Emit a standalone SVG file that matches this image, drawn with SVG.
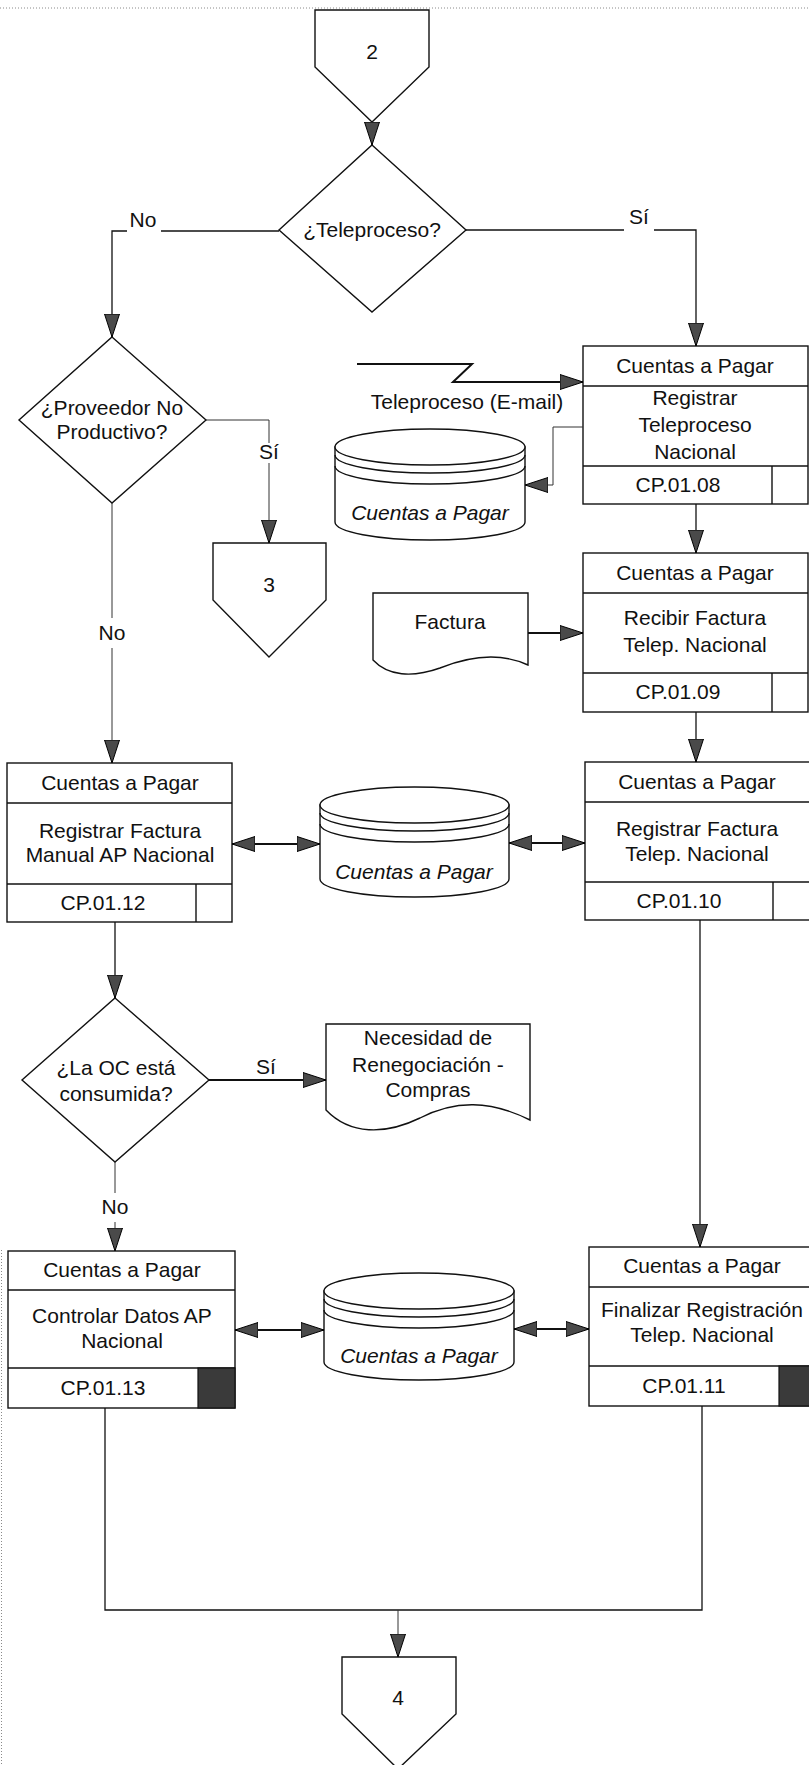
<svg xmlns="http://www.w3.org/2000/svg" width="809" height="1765" viewBox="0 0 809 1765">
  <style>
    .shape { fill: #ffffff; stroke: #111111; stroke-width: 1.4; }
    .rule { stroke: #111111; stroke-width: 1.4; fill: none; }
    .dark { fill: #3a3a3a; stroke: #111111; stroke-width: 1.2; }
    .txt { font-family: "Liberation Sans", Arial, sans-serif; font-size: 21px; fill: #111111; text-anchor: middle; }
    .ital { font-style: italic; }
    .conn { fill: none; stroke: #111111; stroke-width: 1.3; }
    .thin { fill: none; stroke: #333333; stroke-width: 1; }
    .thick { fill: none; stroke: #111111; stroke-width: 2; }
    .page { stroke: #8a8a8a; stroke-width: 1; stroke-dasharray: 1 2; fill: none; }
  </style>
  <defs>
    <marker id="arrow" markerUnits="userSpaceOnUse" markerWidth="24" markerHeight="16" refX="23" refY="8" orient="auto-start-reverse" viewBox="0 0 24 16">
      <path d="M0,0.5 L23,8 L0,15.5 Z" fill="#4a4a4a" stroke="#000000" stroke-width="1"/>
    </marker>
  </defs>

  <rect width="809" height="1765" fill="#ffffff"/>

  <!-- page edges -->
  <line class="page" x1="0" y1="8" x2="809" y2="8"/>
  <line class="page" x1="1.5" y1="1250" x2="1.5" y2="1765"/>

  <!-- off-page connector 2 -->
  <g id="conn-2">
    <polygon class="shape" points="315,10 429,10 429,67 372,122 315,67"/>
    <text class="txt" x="372" y="59" font-size="20">2</text>
  </g>

  <!-- decision: teleproceso -->
  <g id="dec-teleproceso">
    <polygon class="shape" points="372,145 466,230 372,312 279,230"/>
    <text class="txt" x="372" y="237">¿Teleproceso?</text>
  </g>

  <!-- decision: proveedor no productivo -->
  <g id="dec-proveedor">
    <polygon class="shape" points="112,337 206,420 112,503 19,420"/>
    <text class="txt" x="112" y="415">¿Proveedor No</text>
    <text class="txt" x="112" y="439">Productivo?</text>
  </g>

  <!-- off-page connector 3 -->
  <g id="conn-3">
    <polygon class="shape" points="213,543 326,543 326,600 269,657 213,600"/>
    <text class="txt" x="269" y="592" font-size="20">3</text>
  </g>

  <!-- CP.01.08 -->
  <g id="cp-01-08">
    <rect class="shape" x="583" y="346" width="225" height="158"/>
    <line class="rule" x1="583" y1="386" x2="808" y2="386"/>
    <line class="rule" x1="583" y1="466" x2="808" y2="466"/>
    <line class="rule" x1="772" y1="466" x2="772" y2="504"/>
    <text class="txt" x="695" y="373">Cuentas a Pagar</text>
    <text class="txt" x="695" y="405">Registrar</text>
    <text class="txt" x="695" y="432">Teleproceso</text>
    <text class="txt" x="695" y="459">Nacional</text>
    <text class="txt" x="678" y="492">CP.01.08</text>
  </g>

  <!-- data store next to CP.01.08 -->
  <g id="db-1">
    <path class="shape" d="M335,447 V522 A95,18 0 0 0 525,522 V447 Z"/>
    <ellipse class="shape" cx="430" cy="447" rx="95" ry="18"/>
    <path class="rule" d="M335,455 A95,18 0 0 0 525,455 M335,466 A95,18 0 0 0 525,466"/>
    <text class="txt ital" x="430" y="520">Cuentas a Pagar</text>
  </g>

  <!-- teleprocess link label -->
  <g id="lbl-teleproceso">
    <text class="txt" x="467" y="409">Teleproceso (E-mail)</text>
  </g>

  <!-- Factura document -->
  <g id="doc-factura">
    <path class="shape" d="M373,593 H528 V665 C500,652 470,656 440,668 C412,678 388,676 373,660 Z"/>
    <text class="txt" x="450" y="629">Factura</text>
  </g>

  <!-- CP.01.09 -->
  <g id="cp-01-09">
    <rect class="shape" x="583" y="553" width="225" height="159"/>
    <line class="rule" x1="583" y1="593" x2="808" y2="593"/>
    <line class="rule" x1="583" y1="673" x2="808" y2="673"/>
    <line class="rule" x1="772" y1="673" x2="772" y2="712"/>
    <text class="txt" x="695" y="580">Cuentas a Pagar</text>
    <text class="txt" x="695" y="625">Recibir Factura</text>
    <text class="txt" x="695" y="652">Telep. Nacional</text>
    <text class="txt" x="678" y="699">CP.01.09</text>
  </g>

  <!-- CP.01.12 -->
  <g id="cp-01-12">
    <rect class="shape" x="7" y="763" width="225" height="159"/>
    <line class="rule" x1="7" y1="803" x2="232" y2="803"/>
    <line class="rule" x1="7" y1="884" x2="232" y2="884"/>
    <line class="rule" x1="196" y1="884" x2="196" y2="922"/>
    <text class="txt" x="120" y="790">Cuentas a Pagar</text>
    <text class="txt" x="120" y="838">Registrar Factura</text>
    <text class="txt" x="120" y="862">Manual AP Nacional</text>
    <text class="txt" x="103" y="910">CP.01.12</text>
  </g>

  <!-- central data store -->
  <g id="db-2">
    <path class="shape" d="M320,805 V879 A94.5,18 0 0 0 509,879 V805 Z"/>
    <ellipse class="shape" cx="414.5" cy="805" rx="94.5" ry="18"/>
    <path class="rule" d="M320,813 A94.5,18 0 0 0 509,813 M320,824 A94.5,18 0 0 0 509,824"/>
    <text class="txt ital" x="414" y="879">Cuentas a Pagar</text>
  </g>

  <!-- CP.01.10 -->
  <g id="cp-01-10">
    <rect class="shape" x="585" y="762" width="225" height="158"/>
    <line class="rule" x1="585" y1="802" x2="810" y2="802"/>
    <line class="rule" x1="585" y1="882" x2="810" y2="882"/>
    <line class="rule" x1="773" y1="882" x2="773" y2="920"/>
    <text class="txt" x="697" y="789">Cuentas a Pagar</text>
    <text class="txt" x="697" y="836">Registrar Factura</text>
    <text class="txt" x="697" y="861">Telep. Nacional</text>
    <text class="txt" x="679" y="908">CP.01.10</text>
  </g>

  <!-- decision: OC consumida -->
  <g id="dec-oc">
    <polygon class="shape" points="115,998 209,1080 115,1162 22,1080"/>
    <text class="txt" x="116" y="1075">¿La OC está</text>
    <text class="txt" x="116" y="1101">consumida?</text>
  </g>

  <!-- renegotiation document -->
  <g id="doc-renegociacion">
    <path class="shape" d="M326,1024 H530 V1120 C490,1100 455,1100 420,1118 C385,1135 350,1135 326,1110 Z"/>
    <text class="txt" x="428" y="1045">Necesidad de</text>
    <text class="txt" x="428" y="1072">Renegociación -</text>
    <text class="txt" x="428" y="1097">Compras</text>
  </g>

  <!-- CP.01.13 -->
  <g id="cp-01-13">
    <rect class="shape" x="8" y="1251" width="227" height="157"/>
    <line class="rule" x1="8" y1="1290" x2="235" y2="1290"/>
    <line class="rule" x1="8" y1="1368" x2="235" y2="1368"/>
    <rect class="dark" x="198" y="1368" width="37" height="40"/>
    <text class="txt" x="122" y="1277">Cuentas a Pagar</text>
    <text class="txt" x="122" y="1323">Controlar Datos AP</text>
    <text class="txt" x="122" y="1348">Nacional</text>
    <text class="txt" x="103" y="1395">CP.01.13</text>
  </g>

  <!-- lower data store -->
  <g id="db-3">
    <path class="shape" d="M324,1291 V1362 A95,18 0 0 0 514,1362 V1291 Z"/>
    <ellipse class="shape" cx="419" cy="1291" rx="95" ry="18"/>
    <path class="rule" d="M324,1299 A95,18 0 0 0 514,1299 M324,1310 A95,18 0 0 0 514,1310"/>
    <text class="txt ital" x="419" y="1363">Cuentas a Pagar</text>
  </g>

  <!-- CP.01.11 -->
  <g id="cp-01-11">
    <rect class="shape" x="589" y="1247" width="226" height="159"/>
    <line class="rule" x1="589" y1="1287" x2="815" y2="1287"/>
    <line class="rule" x1="589" y1="1366" x2="815" y2="1366"/>
    <rect class="dark" x="779" y="1366" width="36" height="40"/>
    <text class="txt" x="702" y="1273">Cuentas a Pagar</text>
    <text class="txt" x="702" y="1317">Finalizar Registración</text>
    <text class="txt" x="702" y="1342">Telep. Nacional</text>
    <text class="txt" x="684" y="1393">CP.01.11</text>
  </g>

  <!-- off-page connector 4 -->
  <g id="conn-4">
    <polygon class="shape" points="342,1657 456,1657 456,1714 398,1769 342,1714"/>
    <text class="txt" x="398" y="1705" font-size="20">4</text>
  </g>

  <!-- connectors -->
  <g id="connectors">
    <path class="conn" d="M372,122 V145" marker-end="url(#arrow)"/>

    <path class="conn" d="M279,231 H161"/>
    <path class="conn" d="M127,231 H112 V337" marker-end="url(#arrow)"/>
    <text class="txt" x="143" y="227">No</text>

    <path class="conn" d="M466,230 H624"/>
    <path class="conn" d="M654,230 H696 V346" marker-end="url(#arrow)"/>
    <text class="txt" x="639" y="224">Sí</text>

    <path class="thin" d="M206,420 H269 V443"/>
    <path class="thin" d="M269,463 V543" marker-end="url(#arrow)"/>
    <text class="txt" x="269" y="459">Sí</text>

    <path class="thin" d="M112,503 V618"/>
    <path class="thin" d="M112,648 V763" marker-end="url(#arrow)"/>
    <text class="txt" x="112" y="640">No</text>

    <path class="thick" d="M357,364 H472 L453,382 H583" marker-end="url(#arrow)"/>
    <path class="thin" d="M583,427 H553 V485 H525" marker-end="url(#arrow)"/>
    <path class="conn" d="M696,504 V553" marker-end="url(#arrow)"/>
    <path class="thick" d="M528,633 H583" marker-end="url(#arrow)"/>
    <path class="conn" d="M696,712 V762" marker-end="url(#arrow)"/>

    <path class="thick" d="M232,844 H320" marker-start="url(#arrow)" marker-end="url(#arrow)"/>
    <path class="thick" d="M509,843 H585" marker-start="url(#arrow)" marker-end="url(#arrow)"/>

    <path class="conn" d="M115,922 V998" marker-end="url(#arrow)"/>

    <path class="thick" d="M209,1080 H326" marker-end="url(#arrow)"/>
    <text class="txt" x="266" y="1074">Sí</text>

    <path class="thin" d="M115,1162 V1193"/>
    <path class="thin" d="M115,1222 V1251" marker-end="url(#arrow)"/>
    <text class="txt" x="115" y="1214">No</text>

    <path class="conn" d="M700,920 V1247" marker-end="url(#arrow)"/>

    <path class="thick" d="M235,1330 H324" marker-start="url(#arrow)" marker-end="url(#arrow)"/>
    <path class="thick" d="M514,1329 H589" marker-start="url(#arrow)" marker-end="url(#arrow)"/>

    <path class="conn" d="M105,1408 V1610 H702 V1406"/>
    <path class="thin" d="M398,1610 V1657" marker-end="url(#arrow)"/>
  </g>
</svg>
